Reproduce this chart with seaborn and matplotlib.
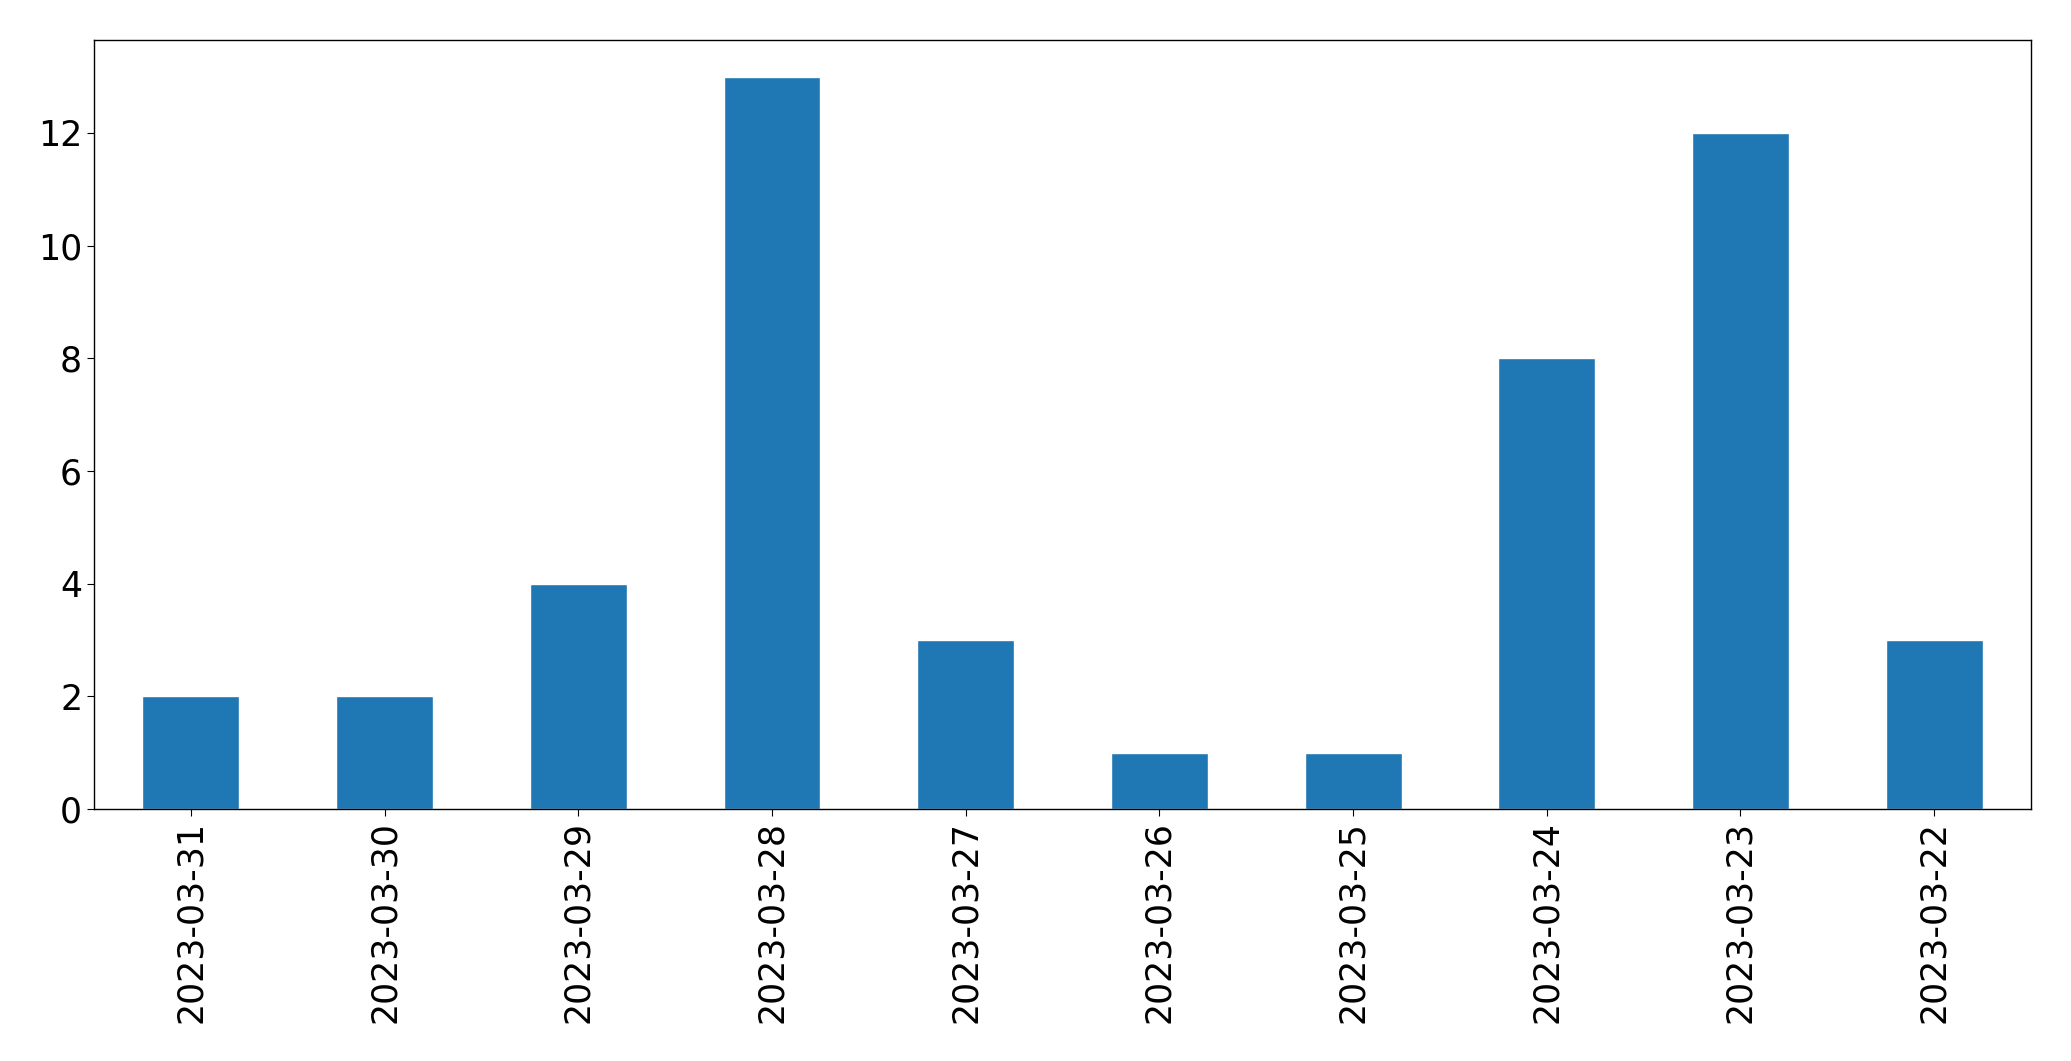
import matplotlib
matplotlib.use("Agg")
import matplotlib.pyplot as plt
import seaborn as sns
import pandas as pd

# daily counts, in the order shown on the chart
dates = ['2023-03-31', '2023-03-30', '2023-03-29', '2023-03-28', '2023-03-27',
         '2023-03-26', '2023-03-25', '2023-03-24', '2023-03-23', '2023-03-22']
counts = [2, 2, 4, 13, 3, 1, 1, 8, 12, 3]

df = pd.DataFrame({'date': dates, 'count': counts})

sns.set_style("ticks", rc={'axes.edgecolor': 'black', 'text.color': 'black',
                           'xtick.color': 'black', 'ytick.color': 'black',
                           'axes.labelcolor': 'black'})
plt.rcParams['font.family'] = ['DejaVu Sans']

fig, ax = plt.subplots(figsize=(20.71, 10.61), dpi=100)
sns.barplot(data=df, x='date', y='count', order=dates, color='#1f77b4',
            saturation=1, width=0.5, ax=ax)

ax.set_xlim(-0.5, len(dates) - 0.5)
ax.set_xlabel('')
ax.set_ylabel('')
ax.tick_params(axis='both', labelsize=25, length=5, colors='black')
plt.xticks(rotation=90)
for s in ax.spines.values():
    s.set_visible(True)
    s.set_linewidth(1)
    s.set_color('black')

plt.subplots_adjust(left=0.0454, right=0.9807, top=0.9623, bottom=0.2375)
fig.savefig('out.png', dpi=100)
